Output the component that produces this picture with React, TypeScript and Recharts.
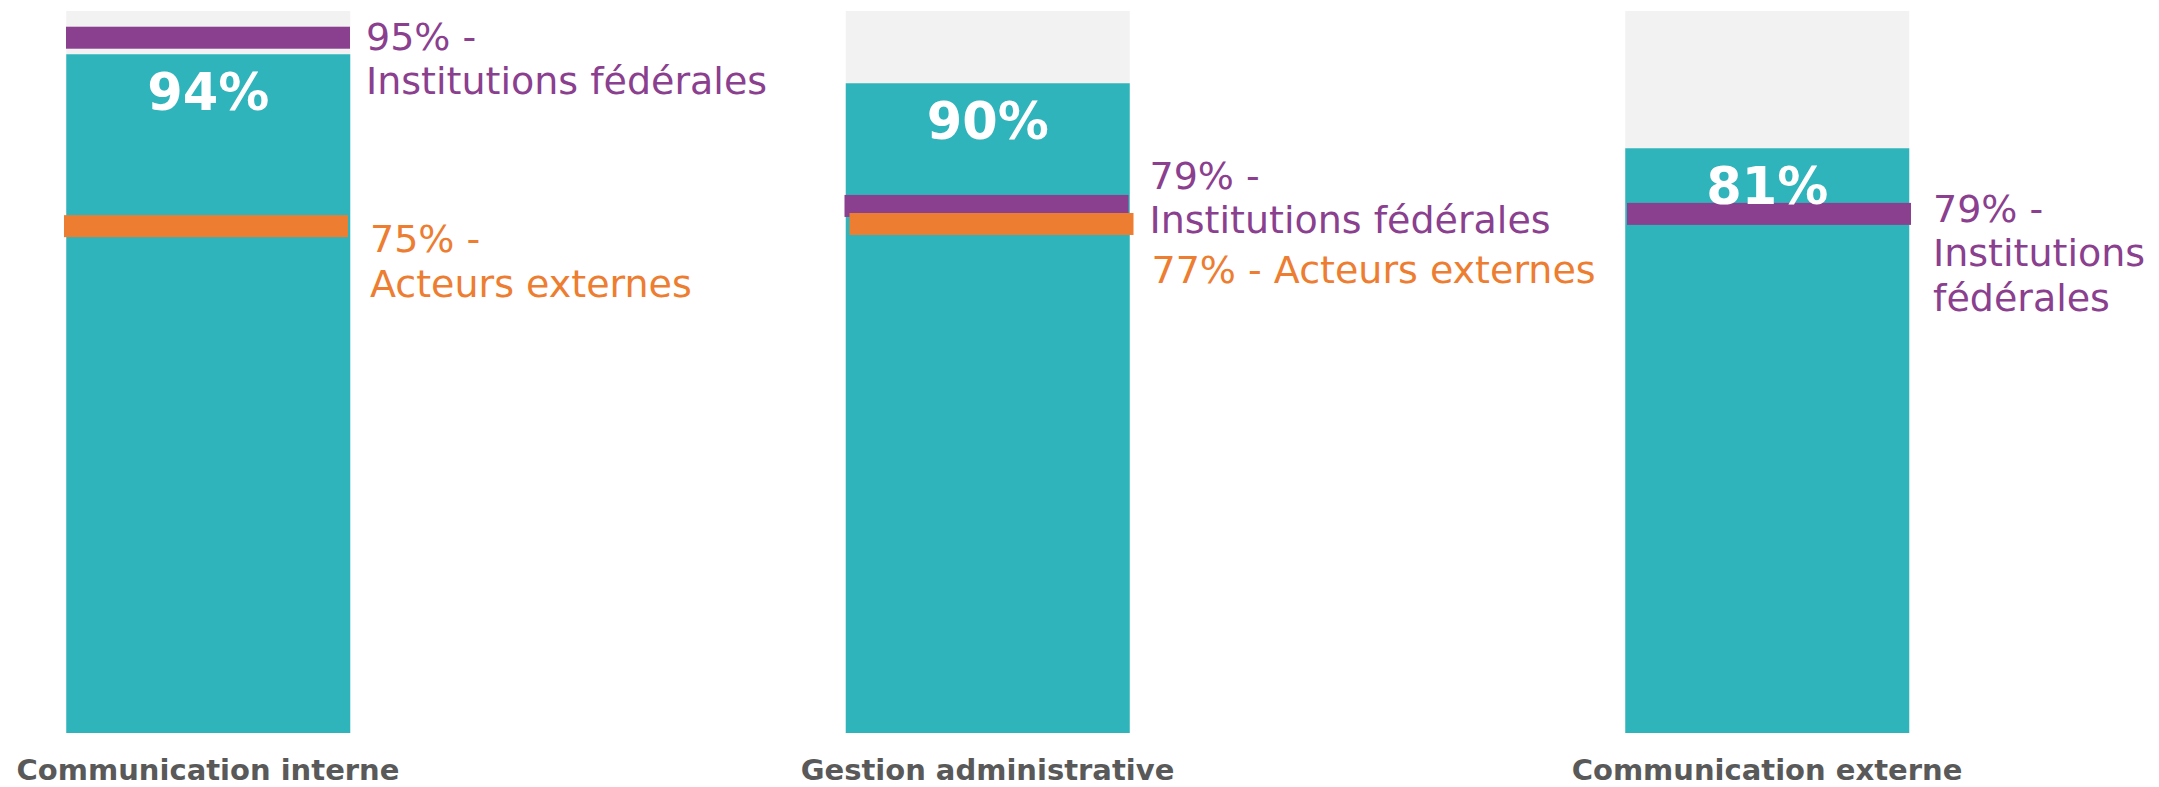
import React from 'react';
import { ComposedChart, Bar, Scatter, XAxis, YAxis, LabelList } from 'recharts';

// ---- data ----
const categories = ['Communication interne', 'Gestion administrative', 'Communication externe'];
const overallPct = [94, 90, 81];
const federalPct = [95, 79, 79];
const externalPct: (number | null)[] = [75, 77, null];
// level at which each benchmark marker is drawn in the picture (percent scale)
const federalMarkerLevel = [96.3, 73.0, 71.9];
const externalMarkerLevel: (number | null)[] = [70.2, 70.5, null];
const federalName = 'Institutions fédérales';
const externalName = 'Acteurs externes';

// ---- layout ----
const W = 2159;
const H = 787;
const BAR = 284;
const FONT = '"DejaVu Sans", sans-serif';
const TEAL = '#2FB4BB';
const GREY = '#F2F2F2';
const PURPLE = '#8B3F8F';
const ORANGE = '#ED7D31';
const AXIS = '#595959';
const UNIT = 779.5; // px between category centers
const FIRST = 208; // px of first center
const xDomain: [number, number] = [-FIRST / UNIT, (W - FIRST) / UNIT];

const fedLabelLines = federalPct.map((p, i) =>
  i === 2 ? [`${p}% -`, 'Institutions', 'fédérales'] : [`${p}% -`, federalName]
);
const extLabelLines = externalPct.map((p, i) =>
  p == null ? [] : i === 1 ? [`${p}% - ${externalName}`] : [`${p}% -`, externalName]
);
const fedLabelDx = [16, 20, 24];
const fedLabelDy = [12, -17, 8];
const fedMarkDx = [0, -1, 2];
const extLabelDx = [20, 22, 0];
const extLabelDy = [26, 59, 0];
const extMarkDx = [-2, 4, 0];

const data = categories.map((c, i) => ({
  idx: i,
  name: c,
  overall: overallPct[i],
  fedLevel: federalMarkerLevel[i],
  extLevel: externalMarkerLevel[i],
}));

const makeMarker = (
  color: string,
  lines: string[][],
  ldx: number[],
  ldy: number[],
  mdx: number[]
) => (props: any) => {
  const { cx, cy, payload } = props;
  if (cx == null || cy == null || !payload) return null;
  const i = payload.idx;
  if (!lines[i] || lines[i].length === 0) return null;
  const left = cx - BAR / 2 + mdx[i];
  const tx = cx + BAR / 2 + ldx[i];
  const ty = cy + ldy[i];
  return (
    <g>
      <rect x={left} y={cy - 11} width={BAR} height={22} fill={color} />
      <text fill={color} fontSize={38} fontFamily={FONT}>
        {lines[i].map((l, k) => (
          <tspan key={k} x={tx} y={ty + k * 44.5}>
            {l}
          </tspan>
        ))}
      </text>
    </g>
  );
};

const FedMarker = makeMarker(PURPLE, fedLabelLines, fedLabelDx, fedLabelDy, fedMarkDx);
const ExtMarker = makeMarker(ORANGE, extLabelLines, extLabelDx, extLabelDy, extMarkDx);

const Tick = (props: any) => {
  const { x, y, payload } = props;
  return (
    <text
      x={x}
      y={y + 47}
      textAnchor="middle"
      fill={AXIS}
      fontSize={29}
      fontWeight="bold"
      fontFamily={FONT}
    >
      {categories[payload.value]}
    </text>
  );
};

const ValueLabel = (props: any) => {
  const { x, y, width, value } = props;
  return (
    <text
      x={x + width / 2}
      y={y + 56}
      textAnchor="middle"
      fill="#ffffff"
      fontSize={51}
      fontWeight="bold"
      fontFamily={FONT}
    >
      {`${value}%`}
    </text>
  );
};

export default function App() {
  return (
    <div style={{ position: 'fixed', left: 0, top: 0, width: W, height: H, background: '#fff' }}>
      <ComposedChart
        width={W}
        height={H}
        data={data}
        margin={{ top: 11, right: 0, bottom: 0, left: 0 }}
        style={{ fontFamily: FONT }}
      >
        <XAxis
          dataKey="idx"
          type="number"
          domain={xDomain}
          allowDataOverflow
          ticks={[0, 1, 2]}
          interval={0}
          height={54}
          axisLine={false}
          tickLine={false}
          tickSize={0}
          tickMargin={0}
          tick={<Tick />}
        />
        <YAxis hide domain={[0, 100]} allowDataOverflow />
        <Bar
          dataKey="overall"
          barSize={BAR}
          fill={TEAL}
          background={{ fill: GREY }}
          isAnimationActive={false}
        >
          <LabelList dataKey="overall" content={<ValueLabel />} />
        </Bar>
        <Scatter dataKey="fedLevel" shape={FedMarker} isAnimationActive={false} />
        <Scatter dataKey="extLevel" shape={ExtMarker} isAnimationActive={false} />
      </ComposedChart>
    </div>
  );
}
